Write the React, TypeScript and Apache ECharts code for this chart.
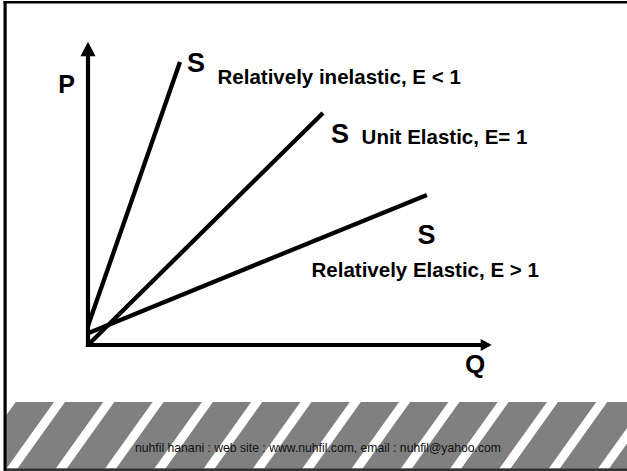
import React, { useEffect, useRef } from "react";
import * as echarts from "echarts";

// Supply curves on the Q (x) / P (y) plane, axis range 0..100 each
const inelasticSupply: number[][] = [[0, 6.5], [23.1, 95.6]];
const unitSupply: number[][] = [[0, 0], [59.0, 78.4]];
const elasticSupply: number[][] = [[0, 4.0], [85.1, 50.7]];

const curveNames = ["Relatively inelastic, E < 1", "Unit Elastic, E= 1", "Relatively Elastic, E > 1"];
const curveLetter = "S";
const axisNames = ["Q", "P"];
const footerText = "nuhfil hanani : web site : www.nuhfil.com, email : nuhfil@yahoo.com";

const FONT = "'Liberation Sans', Arial, Helvetica, sans-serif";

function boldText(text: string, x: number, y: number, size: number, align: string) {
  return {
    type: "text",
    x,
    y,
    silent: true,
    style: {
      text,
      fill: "#000",
      fontSize: size,
      fontWeight: "bold",
      fontFamily: FONT,
      align,
      verticalAlign: "middle",
    },
  };
}

function buildStripes() {
  const y0 = 402;
  const y1 = 468.5;
  const period = 49.3;
  const start = 6.5;
  const w = 11;
  const shift = 47.5;
  const out: any[] = [];
  for (let i = -1; i < 14; i++) {
    const b = start + i * period;
    out.push({
      type: "polygon",
      silent: true,
      shape: {
        points: [
          [b, y1],
          [b + w, y1],
          [b + w + shift, y0],
          [b + shift, y0],
        ],
      },
      style: { fill: "#fff" },
    });
  }
  return out;
}

export default function App() {
  const ref = useRef<HTMLDivElement>(null);

  useEffect(() => {
    if (!ref.current) return;
    const chart = echarts.init(ref.current, null, { renderer: "svg" });

    const axisCommon = {
      type: "value",
      min: 0,
      max: 100,
      axisTick: { show: false },
      axisLabel: { show: false },
      splitLine: { show: false },
    };

    const lineSeries = (data: number[][]) => ({
      type: "line",
      data,
      showSymbol: false,
      symbol: "none",
      silent: true,
      lineStyle: { color: "#000", width: 4.3, cap: "butt" },
    });

    chart.setOption({
      animation: false,
      backgroundColor: "#fff",
      grid: {
        left: 88,
        right: 140.8,
        top: 49,
        bottom: 126,
        containLabel: false,
        outerBoundsMode: "none",
      },
      xAxis: {
        ...axisCommon,
        axisLine: {
          show: true,
          onZero: false,
          symbol: ["none", "triangle"],
          symbolSize: [12, 11],
          lineStyle: { color: "#000", width: 4.2, cap: "square" },
        },
      },
      yAxis: {
        ...axisCommon,
        axisLine: {
          show: true,
          onZero: false,
          symbol: ["none", "triangle"],
          symbolSize: [15, 14.5],
          lineStyle: { color: "#000", width: 4.2, cap: "square" },
        },
      },
      series: [lineSeries(inelasticSupply), lineSeries(unitSupply), lineSeries(elasticSupply)],
      graphic: [
        // bottom band
        {
          type: "rect",
          silent: true,
          shape: { x: 6.5, y: 402, width: 621, height: 67 },
          style: { fill: "#808080" },
        },
        ...buildStripes(),
        {
          type: "rect",
          silent: true,
          shape: { x: 0, y: 0, width: 3.5, height: 471 },
          style: { fill: "#fff" },
        },
        {
          type: "rect",
          silent: true,
          shape: { x: 6.5, y: 468.5, width: 621, height: 2.5 },
          style: { fill: "#333" },
        },
        // border
        {
          type: "rect",
          silent: true,
          shape: { x: 3.5, y: 1, width: 623.5, height: 2.4 },
          style: { fill: "#000" },
        },
        {
          type: "rect",
          silent: true,
          shape: { x: 3.5, y: 1, width: 3.2, height: 470 },
          style: { fill: "#000" },
        },
        // axis names
        boldText(axisNames[1], 66.5, 84, 25, "center"),
        boldText(axisNames[0], 475, 364, 26, "center"),
        // curve letters
        boldText(curveLetter, 196, 62.5, 27, "center"),
        boldText(curveLetter, 340, 134, 27, "center"),
        boldText(curveLetter, 426.5, 235, 27, "center"),
        // curve descriptions
        boldText(curveNames[0], 217.5, 76, 20.5, "left"),
        boldText(curveNames[1], 361.6, 136.7, 20.5, "left"),
        boldText(curveNames[2], 311.5, 269, 20.5, "left"),
        // footer
        {
          type: "text",
          x: 318,
          y: 448,
          silent: true,
          style: {
            text: footerText,
            fill: "#111",
            fontSize: 12.2,
            fontFamily: FONT,
            align: "center",
            verticalAlign: "middle",
          },
        },
      ],
    });

    return () => {
      chart.dispose();
    };
  }, []);

  return (
    <div
      ref={ref}
      style={{ position: "absolute", left: 0, top: 0, width: 627, height: 471, background: "#fff" }}
    />
  );
}
